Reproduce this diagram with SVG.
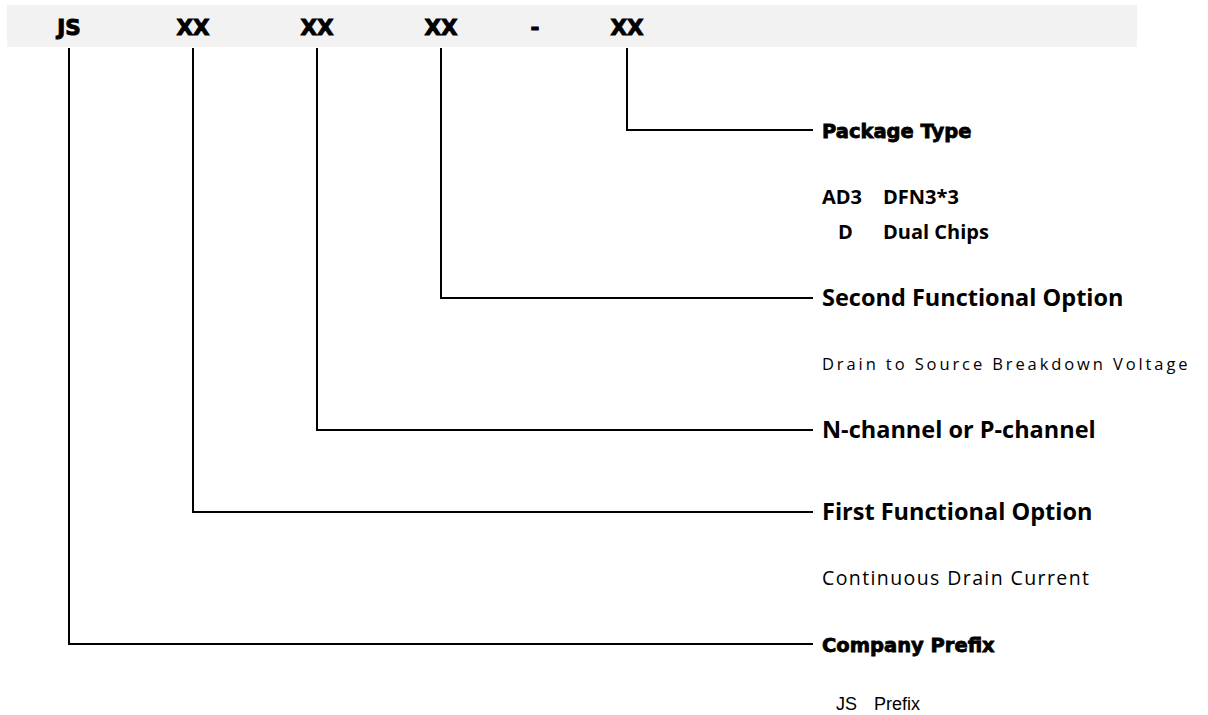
<svg xmlns="http://www.w3.org/2000/svg" width="1208" height="715" viewBox="0 0 1208 715">
  <style>
    .code { font-family: "DejaVu Sans", sans-serif; font-weight: 700; font-size: 21.5px; fill: #000; stroke: #000; stroke-width: 1; text-anchor: middle; }
    .heavy { font-family: "DejaVu Sans", sans-serif; font-weight: 700; font-size: 19.5px; fill: #000; stroke: #000; stroke-width: 0.8; }
    .title { font-family: "Open Sans", "Noto Sans", sans-serif; font-weight: 700; font-size: 23.5px; fill: #000; }
    .sub { font-family: "Open Sans", "Noto Sans", sans-serif; font-weight: 700; font-size: 20px; fill: #000; }
    .desc { font-family: "Open Sans", "Noto Sans", sans-serif; font-weight: 400; fill: #000; }
    .plain { font-family: "Liberation Sans", Arial, sans-serif; font-size: 18px; fill: #000; }
    .wire { fill: none; stroke: #000; stroke-width: 2; }
  </style>

  <!-- part number band -->
  <g id="part-number">
    <rect x="7" y="5" width="1130" height="42" fill="#f2f2f2"/>
    <text class="code" x="69" y="35">JS</text>
    <text class="code" x="193" y="35">XX</text>
    <text class="code" x="317" y="35">XX</text>
    <text class="code" x="441" y="35">XX</text>
    <text class="code" x="535" y="35">-</text>
    <text class="code" x="627" y="35">XX</text>
  </g>

  <!-- leader lines from each code field to its label -->
  <g id="connectors">
    <path class="wire" d="M627 48 V130 H813"/>
    <path class="wire" d="M441 48 V298 H813"/>
    <path class="wire" d="M317 48 V430 H813"/>
    <path class="wire" d="M193 48 V512 H813"/>
    <path class="wire" d="M69 48 V644 H813"/>
  </g>

  <g id="package-type">
    <text class="heavy" x="822" y="138">Package Type</text>
    <text class="sub" x="822" y="204">AD3</text>
    <text class="sub" x="883" y="204">DFN3*3</text>
    <text class="sub" x="838" y="239">D</text>
    <text class="sub" x="883" y="239">Dual Chips</text>
  </g>

  <g id="second-option">
    <text class="title" x="822" y="306">Second Functional Option</text>
    <text class="desc" x="822" y="370" font-size="16.5" letter-spacing="2.9">Drain to Source Breakdown Voltage</text>
  </g>

  <g id="channel-type">
    <text class="title" x="822" y="438">N-channel or P-channel</text>
  </g>

  <g id="first-option">
    <text class="title" x="822" y="520">First Functional Option</text>
    <text class="desc" x="822" y="585" font-size="19.5" letter-spacing="1.4">Continuous Drain Current</text>
  </g>

  <g id="company-prefix">
    <text class="heavy" x="822" y="652">Company Prefix</text>
    <text class="plain" x="836" y="710">JS</text>
    <text class="plain" x="874" y="710">Prefix</text>
  </g>
</svg>
